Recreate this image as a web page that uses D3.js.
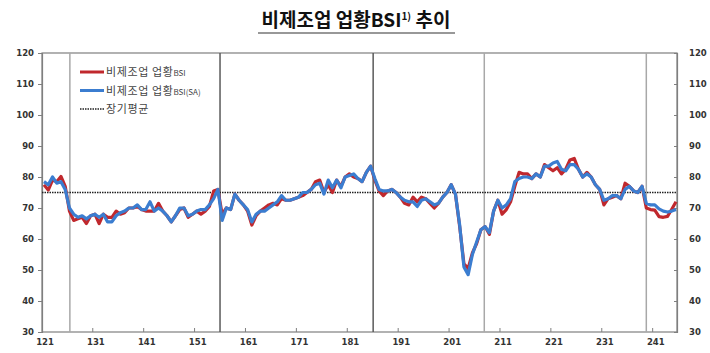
<!DOCTYPE html>
<html>
<head>
<meta charset="utf-8">
<script src="https://cdn.jsdelivr.net/npm/d3@7"></script>
<style>
  body { margin: 0; background: #fff; }
  svg { display: block; }
</style>
</head>
<body>
<script>
const w = 710, h = 353;

// monthly values, 2012.1 ~ 2024.6
const bsi = [
  77.5,75.8,79,78.5,80.2,77,69,66,66.5,67, 65,67.5,68,65,68,67,67,69,68,68.5,
  70,70,70.5,69.5,69,69,69,71.5,69,67.5, 65.5,67.5,69.5,70,67,68,69,68,69,70.5,
  75.5,76,68,70,69.5,74.5,72.5,71,69,64.5, 67.5,69,70,71,71.5,71,73,72.5,72.5,73,
  73.5,74,75,76,78.5,79,75,77.5,75,79, 77,80,81,80,79.5,78.5,81.5,83.5,79,75.5,
  74,75.5,76,75,73.5,71.5,71,73.5,72,73.5, 73,71.5,70,71.5,73.5,75,77.5,74.5,64,52,
  50.5,55.5,58.5,63,64,61.5,69,72.5,68,69.5, 72,77,81.5,81,81,79.5,81,80,84,83,
  82,83,81,82.5,85.5,86,82.5,80,81.5,80, 77.5,76,71,73,73.5,74,73,78,77,75.5,
  75,77,70,69.5,69.3,67.2,67,67.3,69.6,72
];
const bsiSA = [
  78.5,77.5,80,78,78.5,76,70,68,67,67.5, 66.5,67.5,68,67,68,65.5,65.5,67.5,68.5,69,
  70,70,71,69.5,69.5,72,69,70,69,67.5, 65.5,67.5,70,70,67.5,68,69,69.5,69.5,71,
  73,76,66,70,69.5,74.5,72.5,71,69.5,65.5, 68,69,69,70,71,72,74,72.5,72.5,73,
  73.5,75,75,76,77.5,78,74.5,79,76.5,79, 76.5,80,80.5,81,79.5,78.5,81.5,83.5,79.5,76,
  75.5,75.5,76,75,73.5,72.5,72,72,70.5,72.5, 73,72,71,71.5,73.5,75,77.5,74.5,64.5,51,
  48.5,55,59,63,64,62,69,72.5,70,71, 73,78.5,79.5,80,80,79.5,81,80,83.5,83.5,
  84.5,85,82.5,82,84,84,82.5,80,81,80, 77.5,76,72.5,73,74,74,73,76,77,75.5,
  75,77,71.5,71,71,69.7,69,68.7,69,69.5
];
const longAvg = 75;
const yTicks = [30,40,50,60,70,80,90,100,110,120];
const xLabels = ["121","131","141","151","161","171","181","191","201","211","221","231","241"];
const xLabelIdx = [0,12,24,36,48,60,72,84,96,108,120,132,144];
const breaks = [6.1, 41.5, 77.6, 103.8, 142.0];
const breakDark = [false, true, true, false, false];
const legendNames = ["비제조업 업황", "비제조업 업황", "장기평균"];
const legendSub = ["BSI", "BSI(SA)", ""];

const pLeft = 42, pRight = 677, pTop = 53, pBottom = 332;

const svg = d3.select("body").append("svg")
  .attr("width", w).attr("height", h);

// title
const title = svg.append("text")
  .attr("x", 356).attr("y", 27)
  .attr("text-anchor", "middle")
  .style("font-family", "'Noto Sans CJK KR', sans-serif")
  .style("font-weight", "bold")
  .style("font-size", "19px")
  .style("fill", "#111");
title.append("tspan").text("비제조업 업황BSI");
title.append("tspan").attr("dy", -7).style("font-size", "10px").text("1)");
title.append("tspan").attr("dy", 7).text(" 추이");
svg.append("line")
  .attr("x1", 258).attr("x2", 455).attr("y1", 33).attr("y2", 33)
  .style("stroke", "#333").style("stroke-width", 1.2);

const x = d3.scaleLinear().domain([0, bsi.length - 1]).range([44, 676]);
const y = d3.scaleLinear().domain([30, 120]).range([pBottom, pTop]);

// frame
svg.append("rect")
  .attr("x", pLeft).attr("y", pTop)
  .attr("width", pRight - pLeft).attr("height", pBottom - pTop)
  .style("fill", "none").style("stroke", "#7f7f7f").style("stroke-width", 1.2);

// vertical separators
svg.selectAll(".brk")
  .data(breaks)
  .enter()
  .append("line")
  .attr("class", "brk")
  .attr("x1", d => x(d)).attr("x2", d => x(d))
  .attr("y1", pTop).attr("y2", pBottom)
  .style("stroke", (d, i) => breakDark[i] ? "#5a5a5a" : "#a8a8a8")
  .style("stroke-width", 1.5);

const tickFont = "'DejaVu Sans', sans-serif";

// left axis
const yAxisL = d3.axisLeft(y).tickValues(yTicks).tickSize(4).tickPadding(4);
const gl = svg.append("g").attr("transform", "translate(" + pLeft + ",0)").call(yAxisL);
// right axis
const yAxisR = d3.axisRight(y).tickValues(yTicks).tickSize(-3).tickPadding(12);
const gr = svg.append("g").attr("transform", "translate(" + pRight + ",0)").call(yAxisR);
[gl, gr].forEach(g => {
  g.select(".domain").style("stroke", "#7f7f7f").style("stroke-width", 1.2);
  g.selectAll(".tick line").style("stroke", "#7f7f7f");
  g.selectAll(".tick text")
    .style("font-family", tickFont).style("font-size", "8.5px")
    .style("font-weight", "bold").style("fill", "#333");
});

// bottom axis: ticks between Dec and Jan, labels at Jan
const xg = svg.append("g").attr("transform", "translate(0," + pBottom + ")");
xg.selectAll("line")
  .data(xLabelIdx.slice(1))
  .enter()
  .append("line")
  .attr("x1", d => x(d - 0.5)).attr("x2", d => x(d - 0.5))
  .attr("y1", 0).attr("y2", -4)
  .style("stroke", "#7f7f7f");
xg.selectAll("text")
  .data(xLabels)
  .enter()
  .append("text")
  .attr("x", (d, i) => x(xLabelIdx[i]) + 1)
  .attr("y", 13)
  .attr("text-anchor", "middle")
  .style("font-family", tickFont).style("font-size", "8.5px")
  .style("font-weight", "bold").style("fill", "#333")
  .text(d => d);

// long-run average
svg.append("line")
  .attr("x1", pLeft).attr("x2", pRight)
  .attr("y1", y(longAvg)).attr("y2", y(longAvg))
  .style("stroke", "#222").style("stroke-width", 1.3)
  .style("stroke-dasharray", "1.5,1");

const line = d3.line().x((d, i) => x(i)).y(d => y(d));

svg.append("path")
  .datum(bsi)
  .attr("d", line)
  .style("fill", "none").style("stroke", "#c0282d")
  .style("stroke-width", 3.2).style("stroke-linejoin", "round");

svg.append("path")
  .datum(bsiSA)
  .attr("d", line)
  .style("fill", "none").style("stroke", "#3b7dd0")
  .style("stroke-width", 3.2).style("stroke-linejoin", "round");

// legend
const legColors = ["#c0282d", "#3b7dd0", "#222"];
const leg = svg.append("g");
legendNames.forEach((name, i) => {
  const ly = 72 + i * 18.5;
  leg.append("line")
    .attr("x1", 80).attr("x2", 104).attr("y1", ly).attr("y2", ly)
    .style("stroke", legColors[i])
    .style("stroke-width", i < 2 ? 3 : 1.3)
    .style("stroke-dasharray", i < 2 ? null : "1.5,1");
  const t = leg.append("text")
    .attr("x", 106).attr("y", ly + 4)
    .style("font-family", "'Noto Sans CJK KR', sans-serif")
    .style("font-size", "11px").style("fill", "#444")
    .style("letter-spacing", "0.6px");
  t.append("tspan").text(name);
  if (legendSub[i]) t.append("tspan").style("font-size", "8px").style("letter-spacing", "0").text(legendSub[i]);
});
</script>
</body>
</html>
